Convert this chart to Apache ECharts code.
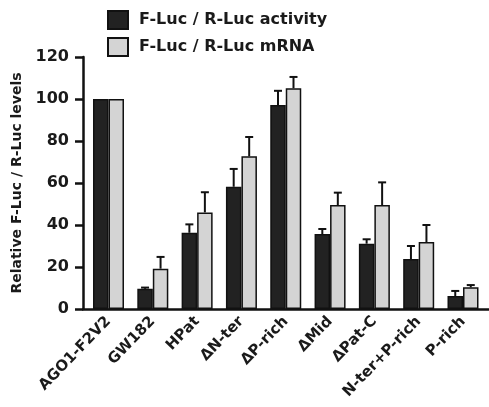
<!DOCTYPE html>
<html><head><meta charset="utf-8">
<script src="https://cdn.jsdelivr.net/npm/echarts@6/dist/echarts.min.js"></script>
<style>html,body{margin:0;padding:0;background:#fff}#c{width:489px;height:407px}</style>
</head><body><div id="c"></div>
<script>
const categories = ['AGO1-F2V2','GW182','HPat','ΔN-ter','ΔP-rich','ΔMid','ΔPat-C','N-ter+P-rich','P-rich'];
const activity = [100, 9.6, 36.3, 58.2, 97.1, 35.7, 31.1, 23.8, 6.2];
const activityErr = [0, 0.6, 4.0, 8.5, 6.8, 2.4, 2.1, 6.2, 2.4];
const mrna = [100, 19.2, 46.0, 72.7, 105.1, 49.5, 49.5, 31.9, 10.3];
const mrnaErr = [0, 5.6, 9.6, 9.2, 5.4, 5.9, 10.8, 8.1, 1.1];
const yTicks = [0, 20, 40, 60, 80, 100, 120];
const seriesNames = ['F-Luc / R-Luc activity', 'F-Luc / R-Luc mRNA'];

const FONT = 'DejaVu Sans';
const BW = 15.5;
function errData(vals, errs){ return vals.map((v,i)=>[i, v, errs[i]]); }
function errRender(offset){
  return function(params, api){
    const i = api.value(0), v = api.value(1), e = api.value(2);
    if (!e) return null;
    const p = api.coord([i, v]);
    const q = api.coord([i, v + e]);
    const x = p[0] + offset;
    const st = {stroke:'#111', lineWidth:2};
    return {type:'group', children:[
      {type:'line', shape:{x1:x, y1:p[1], x2:x, y2:q[1]}, style:st},
      {type:'line', shape:{x1:x-4, y1:q[1], x2:x+4, y2:q[1]}, style:st}
    ]};
  };
}
const chart = echarts.init(document.getElementById('c'));
chart.setOption({
  animation:false,
  textStyle:{fontFamily:FONT},
  grid:[
    {left:86.34, right:3.84, top:57, bottom:98},
    {left:83, right:0, top:57, bottom:98}
  ],
  legend:{
    orient:'vertical', left:107, top:10, padding:0, itemWidth:20, itemHeight:18, itemGap:7,
    icon:'rect',
    textStyle:{fontFamily:FONT, fontWeight:'bold', fontSize:16, color:'#1a1a1a', padding:[0,0,0,6]},
    data:seriesNames
  },
  xAxis:[
    {type:'category', gridIndex:0, data:categories,
     axisLine:{show:false}, axisTick:{show:false},
     axisLabel:{rotate:46, fontSize:15, fontWeight:'bold', color:'#1a1a1a', margin:10, interval:0, fontFamily:FONT}},
    {type:'value', gridIndex:1, min:0, max:1,
     axisLine:{show:true, lineStyle:{color:'#111', width:2.5}}, axisTick:{show:false},
     axisLabel:{show:false}, splitLine:{show:false}}
  ],
  yAxis:[
    {type:'value', gridIndex:0, min:0, max:120, show:false, splitLine:{show:false}},
    {type:'value', gridIndex:1, min:yTicks[0], max:yTicks[yTicks.length-1], interval:20,
     name:'Relative F-Luc / R-Luc levels', nameLocation:'middle', nameGap:57, nameRotate:90,
     nameTextStyle:{fontFamily:FONT, fontWeight:'bold', fontSize:14, color:'#1a1a1a'},
     axisLine:{show:true, lineStyle:{color:'#111', width:2.5}},
     axisTick:{show:true, length:8, lineStyle:{color:'#111', width:2.5}},
     axisLabel:{fontSize:16, fontWeight:'bold', color:'#1a1a1a', margin:14, fontFamily:FONT},
     splitLine:{show:false}}
  ],
  series:[
    {name:seriesNames[0], type:'bar', xAxisIndex:0, yAxisIndex:0, data:activity, barWidth:BW, barGap:'0%',
     itemStyle:{color:'#222222', borderColor:'#111', borderWidth:1.5}},
    {name:seriesNames[1], type:'bar', xAxisIndex:0, yAxisIndex:0, data:mrna, barWidth:BW, barGap:'0%',
     itemStyle:{color:'#d4d4d4', borderColor:'#111', borderWidth:1.5}},
    {type:'custom', xAxisIndex:0, yAxisIndex:0, data:errData(activity, activityErr), renderItem:errRender(-BW/2), z:5},
    {type:'custom', xAxisIndex:0, yAxisIndex:0, data:errData(mrna, mrnaErr), renderItem:errRender(BW/2), z:5}
  ]
});
</script></body></html>
